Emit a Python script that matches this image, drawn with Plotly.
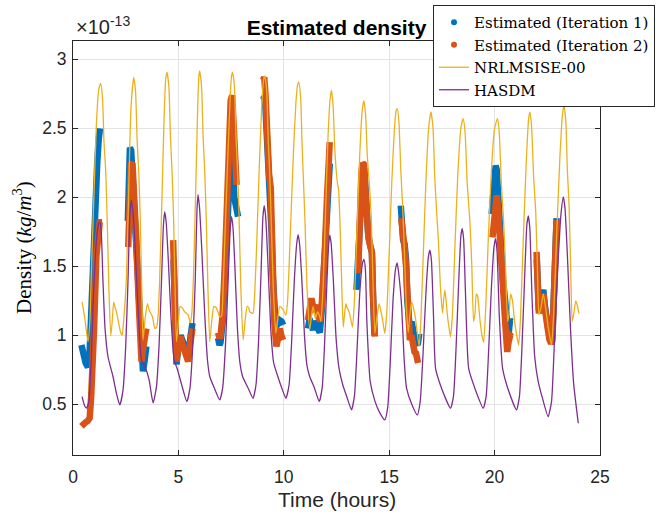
import plotly.graph_objects as go

# Values in units of 1e-13 kg/m^3, time in hours
HASDM = [(0.43,0.556),(0.55,0.49),(0.64,0.472),(0.75,0.52),(0.87,0.85),(0.95,1.21),(1.11,1.69),(1.20,1.80),(1.27,1.822),
 (1.34,1.75),(1.42,1.40),(1.52,1.05),(1.66,0.845),(1.90,0.70),(2.06,0.58),(2.22,0.496),(2.37,0.60),(2.50,0.92),(2.61,1.40),(2.70,1.88),(2.77,1.98),
 (2.84,1.90),(2.93,1.69),(3.08,1.21),(3.25,0.82),(3.40,0.78),(3.61,0.677),(3.80,0.51),(3.96,0.628),(4.08,0.92),(4.20,1.40),(4.29,1.80),(4.35,1.894),
 (4.42,1.82),(4.52,1.55),(4.66,1.10),(4.80,0.82),(4.94,0.76),(5.14,0.65),(5.40,0.52),(5.55,0.62),(5.68,0.92),(5.80,1.40),(5.88,1.90),(5.93,2.02),
 (6.00,1.93),(6.10,1.65),(6.25,1.15),(6.38,0.82),(6.49,0.70),(6.70,0.62),(6.96,0.532),(7.10,0.62),(7.23,0.92),(7.36,1.40),(7.46,1.78),(7.52,1.86),
 (7.59,1.78),(7.68,1.50),(7.80,1.05),(7.92,0.80),(8.05,0.70),(8.30,0.62),(8.54,0.544),(8.68,0.64),(8.80,0.95),(8.92,1.45),(9.01,1.86),(9.07,1.94),
 (9.14,1.86),(9.24,1.55),(9.38,1.05),(9.52,0.80),(9.72,0.70),(9.90,0.62),(10.10,0.544),(10.25,0.64),(10.37,0.95),(10.50,1.40),(10.61,1.66),(10.68,1.73),
 (10.75,1.66),(10.85,1.42),(10.98,1.00),(11.10,0.78),(11.23,0.70),(11.45,0.62),(11.68,0.52),(11.82,0.62),(11.93,0.92),(12.05,1.40),(12.13,1.66),(12.18,1.726),
 (12.25,1.66),(12.35,1.40),(12.48,0.98),(12.62,0.76),(12.80,0.64),(13.00,0.55),(13.21,0.46),(13.35,0.56),(13.47,0.88),(13.60,1.30),(13.73,1.52),(13.80,1.55),
 (13.87,1.48),(13.94,1.10),(14.10,0.664),(14.33,0.52),(14.55,0.44),(14.79,0.387),(14.93,0.48),(15.05,0.80),(15.18,1.25),(15.30,1.48),(15.38,1.525),
 (15.45,1.45),(15.59,1.21),(15.70,0.85),(15.82,0.62),(16.07,0.50),(16.33,0.423),(16.47,0.52),(16.60,0.85),(16.74,1.30),(16.86,1.57),(16.93,1.617),
 (17.00,1.55),(17.10,1.15),(17.20,0.76),(17.50,0.61),(17.91,0.472),(18.05,0.56),(18.17,0.90),(18.30,1.40),(18.40,1.72),(18.46,1.774),
 (18.53,1.70),(18.62,1.30),(18.77,0.76),(19.08,0.61),(19.46,0.472),(19.60,0.56),(19.72,0.90),(19.85,1.35),(19.97,1.64),(20.05,1.70),
 (20.12,1.60),(20.22,1.15),(20.38,0.76),(20.66,0.60),(21.04,0.46),(21.18,0.56),(21.30,0.92),(21.42,1.40),(21.53,1.80),(21.60,1.865),
 (21.67,1.78),(21.77,1.30),(21.90,0.85),(22.05,0.68),(22.26,0.55),(22.54,0.41),(22.70,0.52),(22.85,1.00),(23.00,1.50),(23.15,1.88),(23.26,2.003),
 (23.34,1.92),(23.45,1.59),(23.60,1.05),(23.75,0.65),(23.97,0.363)]

NRLMSISE = [(0.43,1.243),(0.55,1.135),(0.71,0.954),(0.80,1.10),(0.87,1.45),(1.00,2.05),(1.11,2.53),(1.22,2.78),(1.31,2.826),(1.40,2.72),(1.47,2.40),(1.55,2.20),(1.62,1.85),(1.70,1.35),(1.79,0.995),(1.86,1.10),(1.93,1.243),(2.00,1.20),(2.06,1.17),(2.14,1.11),(2.25,1.026),(2.33,1.0),(2.40,1.10),(2.53,1.40),(2.65,2.10),(2.75,2.65),(2.88,2.869),
 (2.97,2.76),(3.04,2.42),(3.12,2.18),(3.19,1.85),(3.26,1.35),(3.32,0.966),(3.42,1.12),(3.53,1.23),(3.62,1.18),(3.77,1.135),(3.88,1.05),(3.97,1.06),(4.04,1.15),(4.11,1.40),(4.22,2.00),(4.33,2.62),(4.40,2.86),(4.46,2.907),
 (4.55,2.80),(4.62,2.45),(4.70,2.18),(4.77,1.85),(4.84,1.35),(4.91,0.954),(5.00,1.10),(5.08,1.21),(5.18,1.20),(5.30,1.17),(5.46,1.15),(5.56,1.09),(5.63,1.15),(5.72,1.45),(5.82,2.05),(5.91,2.62),(5.97,2.88),(6.01,2.915),
 (6.10,2.80),(6.17,2.45),(6.25,2.18),(6.32,1.85),(6.40,1.35),(6.49,0.954),(6.58,1.10),(6.68,1.21),(6.80,1.20),(6.96,1.135),(7.05,1.14),(7.12,1.35),(7.20,1.69),(7.32,2.20),(7.45,2.70),(7.52,2.88),(7.57,2.907),
 (7.66,2.80),(7.73,2.45),(7.81,2.18),(7.88,1.85),(7.96,1.35),(8.07,0.966),(8.16,1.10),(8.26,1.21),(8.33,1.20),(8.39,1.17),(8.54,1.16),(8.60,1.25),(8.70,1.60),(8.82,2.15),(8.95,2.65),(9.04,2.85),(9.10,2.88),
 (9.19,2.77),(9.26,2.42),(9.33,2.18),(9.40,1.85),(9.50,1.35),(9.62,1.014),(9.70,1.10),(9.81,1.21),(9.95,1.19),(10.10,1.147),(10.18,1.25),(10.30,1.70),(10.45,2.30),(10.58,2.70),(10.66,2.82),(10.71,2.835),
 (10.80,2.72),(10.86,2.42),(10.92,2.17),(11.00,1.85),(11.10,1.35),(11.23,1.04),(11.32,1.15),(11.39,1.21),(11.50,1.12),(11.60,1.17),(11.68,1.15),(11.76,1.10),(11.87,1.376),(11.98,1.90),(12.10,2.45),(12.20,2.72),(12.26,2.775),
 (12.34,2.66),(12.42,2.35),(12.53,2.12),(12.60,2.05),(12.68,1.75),(12.76,1.30),(12.82,1.06),(12.88,1.15),(12.94,1.23),(13.00,1.20),(13.10,1.17),(13.26,1.06),(13.35,1.25),(13.47,1.75),(13.60,2.30),(13.72,2.63),(13.80,2.70),
 (13.88,2.60),(13.96,2.30),(14.08,2.05),(14.15,1.85),(14.22,1.45),(14.32,1.014),(14.42,1.13),(14.52,1.23),(14.60,1.18),(14.70,1.10),(14.79,1.014),(14.88,1.15),(15.00,1.60),(15.12,2.10),(15.25,2.50),(15.33,2.63),(15.38,2.643),
 (15.46,2.55),(15.55,2.20),(15.63,1.955),(15.70,1.70),(15.80,1.25),(15.90,1.02),(15.98,1.15),(16.06,1.243),(16.15,1.20),(16.25,1.12),(16.42,0.918),(16.50,1.10),(16.62,1.60),(16.75,2.15),(16.87,2.50),(16.98,2.62),
 (17.08,2.50),(17.16,2.15),(17.25,1.894),(17.33,1.70),(17.43,1.35),(17.53,1.16),(17.58,1.25),(17.64,1.33),(17.70,1.25),(17.78,1.12),(17.91,0.99),(18.00,1.15),(18.12,1.65),(18.25,2.15),(18.40,2.50),(18.51,2.57),
 (18.60,2.47),(18.70,2.10),(18.83,1.82),(18.92,1.50),(19.00,1.10),(19.07,1.16),(19.13,1.30),(19.20,1.28),(19.30,1.12),(19.40,1.00),(19.48,0.95),(19.58,1.20),(19.70,1.70),(19.85,2.20),(20.00,2.50),(20.14,2.57),
 (20.22,2.47),(20.32,2.10),(20.42,1.85),(20.52,1.50),(20.62,1.10),(20.68,1.15),(20.76,1.30),(20.85,1.25),(20.95,1.10),(21.14,0.93),(21.22,1.10),(21.35,1.65),(21.50,2.25),(21.62,2.58),(21.68,2.618),
 (21.76,2.50),(21.85,2.15),(21.95,1.90),(22.03,1.50),(22.10,1.15),(22.20,1.20),(22.31,1.30),(22.42,1.20),(22.55,1.05),(22.70,0.93),(22.80,1.15),(22.95,1.75),(23.10,2.30),(23.22,2.60),(23.29,2.666),
 (23.38,2.55),(23.45,2.20),(23.53,1.95),(23.60,1.55),(23.68,1.10),(23.75,1.15),(23.85,1.25),(23.92,1.22),(24.00,1.16)]

ITER1_SEGMENTS = [
 [(0.40,0.93),(0.50,0.86),(0.60,0.80),(0.71,0.77),(0.78,0.85),(0.85,1.10),(0.95,1.58),(1.05,1.95),(1.15,2.25),(1.22,2.42),(1.28,2.50)],
 [(2.60,1.83),(2.65,2.20),(2.70,2.36),(2.76,2.34),(2.85,2.10),(2.95,1.75),(3.05,1.40),(3.15,1.10),(3.25,0.88),(3.32,0.74),(3.40,0.82),(3.48,0.92)],
 [(4.77,1.55),(4.82,1.20),(4.87,0.90),(4.91,0.79),(5.00,0.92),(5.10,1.00),(5.20,0.96),(5.30,0.92),(5.40,0.87),(5.48,0.85),(5.58,1.00),(5.67,1.09)],
 [(6.88,0.98),(6.95,0.93),(7.00,0.95),(7.10,1.10),(7.20,1.40),(7.30,1.85),(7.40,2.20),(7.48,2.40),(7.52,2.43),(7.57,2.30),(7.65,2.00),(7.83,1.86)],
 [(9.02,2.71),(9.07,2.73),(9.13,2.65),(9.20,2.41),(9.30,2.17),(9.38,2.05),(9.42,1.75),(9.47,1.45),(9.55,1.15),(9.62,1.06),(9.70,1.08),(9.81,1.11),(9.90,1.10),(9.97,1.075)],
 [(11.15,1.05),(11.22,1.12),(11.30,1.08),(11.39,1.04),(11.48,1.10),(11.58,1.08),(11.65,1.04),(11.71,1.02),(11.80,1.18),(11.87,1.40),(11.95,1.62),(12.05,1.95),(12.12,2.15),(12.18,2.245)],
 [(13.45,1.33),(13.52,1.55),(13.58,1.80),(13.64,2.05),(13.70,2.20),(13.76,2.24),(13.82,2.20),(13.90,1.95),(14.00,1.74),(14.10,1.65),(14.18,1.60),(14.24,1.25),(14.30,1.00)],
 [(15.55,1.94),(15.60,1.80),(15.66,1.69),(15.73,1.66),(15.80,1.55),(15.86,1.25),(15.90,1.11),(15.98,1.05),(16.06,1.10),(16.15,1.02),(16.25,0.95),(16.35,0.93),(16.42,1.00),(16.46,0.99)],
 [(19.86,1.88),(19.92,2.05),(19.98,2.18),(20.05,2.23),(20.10,2.20),(20.16,2.00),(20.22,1.75),(20.30,1.55),(20.40,1.40),(20.50,1.25),(20.60,1.05),(20.66,1.00),(20.73,1.11),(20.80,1.10)],
 [(22.00,1.55),(22.05,1.30),(22.10,1.18),(22.18,1.25),(22.25,1.30),(22.31,1.33),(22.38,1.22),(22.45,1.17),(22.52,1.07),(22.60,1.00),(22.68,0.96),(22.74,0.98),(22.80,1.28),(22.87,1.58),(22.94,1.85)],
]

ITER2_SEGMENTS = [
 [(0.40,0.34),(0.50,0.36),(0.60,0.37),(0.70,0.38),(0.79,0.40),(0.86,0.55),(0.92,0.72),(1.00,1.05),(1.11,1.58),(1.20,1.76),(1.27,1.82),(1.38,1.82)],
 [(2.62,1.64),(2.68,2.05),(2.75,2.24),(2.82,2.25),(2.90,2.05),(3.00,1.70),(3.10,1.30),(3.20,0.95),(3.25,0.81),(3.32,0.90),(3.40,1.02),(3.48,1.05)],
 [(4.75,1.69),(4.80,1.35),(4.86,0.95),(4.91,0.81),(5.00,0.92),(5.10,0.99),(5.20,0.93),(5.30,0.88),(5.40,0.83),(5.46,0.81),(5.55,0.93),(5.67,1.05)],
 [(6.88,1.02),(6.95,0.98),(7.00,1.00),(7.10,1.15),(7.20,1.50),(7.30,2.00),(7.40,2.45),(7.48,2.70),(7.55,2.74),(7.62,2.55),(7.70,2.25),(7.76,2.09)],
 [(9.02,2.85),(9.07,2.87),(9.13,2.75),(9.20,2.45),(9.30,2.17),(9.38,2.07),(9.42,1.75),(9.47,1.45),(9.55,1.10),(9.60,1.00),(9.65,0.92),(9.73,0.98),(9.81,1.05),(9.88,1.00),(9.97,0.966)],
 [(11.15,1.11),(11.22,1.20),(11.31,1.268),(11.39,1.21),(11.47,1.17),(11.53,1.20),(11.58,1.22),(11.65,1.15),(11.71,1.10),(11.80,1.22),(11.87,1.376),(11.95,1.62),(12.05,2.00),(12.12,2.28),(12.18,2.40)],
 [(13.53,1.45),(13.58,1.75),(13.62,2.00),(13.68,2.18),(13.74,2.25),(13.80,2.24),(13.87,2.05),(13.95,1.80),(14.02,1.70),(14.10,1.65),(14.18,1.60),(14.23,1.30),(14.28,1.05),(14.32,0.99)],
 [(15.57,1.85),(15.62,1.72),(15.66,1.66),(15.73,1.63),(15.80,1.50),(15.86,1.20),(15.90,1.05),(15.98,0.966),(16.06,1.00),(16.13,0.93),(16.20,0.88),(16.27,0.87),(16.32,0.82),(16.37,0.80)],
 [(19.90,1.71),(19.96,1.85),(20.03,1.97),(20.10,2.015),(20.16,1.92),(20.24,1.65),(20.33,1.45),(20.42,1.30),(20.50,1.10),(20.55,0.95),(20.60,0.88),(20.66,0.95),(20.74,1.00),(20.82,0.99)],
 [(21.99,1.605),(22.04,1.35),(22.10,1.16),(22.18,1.22),(22.25,1.27),(22.31,1.30),(22.38,1.20),(22.45,1.15),(22.52,1.05),(22.60,0.97),(22.68,0.94),(22.74,0.96),(22.80,1.25),(22.87,1.55),(22.94,1.834)],
]

X_TICKS = [0, 5, 10, 15, 20, 25]
Y_TICKS = [0.5, 1, 1.5, 2, 2.5, 3]
Y_TICK_TEXT = ["0.5", "1", "1.5", "2", "2.5", "3"]

C_BLUE = "#0072BD"
C_ORANGE = "#D95319"
C_YELLOW = "#EDB120"
C_PURPLE = "#7E2F8E"
AX = "#262626"


def unzip(pairs):
    return [p[0] for p in pairs], [p[1] for p in pairs]


def flatten(segments):
    xs, ys = [], []
    for seg in segments:
        sx, sy = unzip(seg)
        xs += sx + [None]
        ys += sy + [None]
    return xs, ys


fig = go.Figure()

LEG_FONT = dict(family="DejaVu Serif", size=15, color="black")

# legend-only markers
fig.add_trace(go.Scatter(x=[None], y=[None], mode="markers", name="Estimated (Iteration 1)",
                         marker=dict(color=C_BLUE, size=6)))
fig.add_trace(go.Scatter(x=[None], y=[None], mode="markers", name="Estimated (Iteration 2)",
                         marker=dict(color=C_ORANGE, size=6)))

x1, y1 = flatten(ITER1_SEGMENTS)
fig.add_trace(go.Scatter(x=x1, y=y1, mode="lines", showlegend=False,
                         line=dict(color=C_BLUE, width=6.5), connectgaps=False))
x2, y2 = flatten(ITER2_SEGMENTS)
fig.add_trace(go.Scatter(x=x2, y=y2, mode="lines", showlegend=False,
                         line=dict(color=C_ORANGE, width=6.5), connectgaps=False))

xn, yn = unzip(NRLMSISE)
fig.add_trace(go.Scatter(x=xn, y=yn, mode="lines", name="NRLMSISE-00",
                         line=dict(color=C_YELLOW, width=1.3, shape="spline", smoothing=0.5)))
xh, yh = unzip(HASDM)
fig.add_trace(go.Scatter(x=xh, y=yh, mode="lines", name="HASDM",
                         line=dict(color=C_PURPLE, width=1.3, shape="spline", smoothing=0.5)))

axis_common = dict(
    showline=True, linecolor=AX, linewidth=1, mirror="ticks",
    ticks="inside", ticklen=5, tickcolor=AX, tickwidth=1,
    showgrid=True, gridcolor="#E3E3E3", gridwidth=1, zeroline=False,
    tickfont=dict(family="Liberation Sans", size=17.5, color=AX),
)

fig.update_layout(
    width=664, height=515,
    margin=dict(l=73, r=64, t=41, b=60, autoexpand=False),
    paper_bgcolor="white", plot_bgcolor="white",
    xaxis=dict(range=[0, 25], tickvals=X_TICKS, ticklabelstandoff=6, automargin=False, **axis_common),
    yaxis=dict(range=[0.133, 3.133], tickvals=Y_TICKS, ticktext=Y_TICK_TEXT, ticklabelstandoff=2,
               automargin=False, **axis_common),
    title=dict(text="<b>Estimated density</b>", x=0.5, xref="paper", xanchor="center",
               y=1 - 28 / 515, yref="container", yanchor="middle",
               font=dict(family="Liberation Sans", size=21, color="black")),
    legend=dict(x=(433 - 73) / 527, y=1 + (41 - 5) / 414, xanchor="left", yanchor="top",
                bgcolor="white", bordercolor=AX, borderwidth=1, font=LEG_FONT,
                tracegroupgap=0, itemwidth=30),
    showlegend=True,
    annotations=[
        dict(text="×10<sup>-13</sup>", xref="paper", yref="paper", x=0, y=1,
             xanchor="left", yanchor="bottom", showarrow=False, xshift=1, yshift=1,
             font=dict(family="Liberation Sans", size=20, color=AX)),
        dict(text="Density (<i>kg</i>/<i>m</i><sup>3</sup>)", xref="paper", yref="paper",
             x=(22 - 73) / 527, y=0.5, textangle=-90, xanchor="center", yanchor="middle",
             showarrow=False, font=dict(family="Liberation Serif", size=21, color="black")),
        dict(text="Time (hours)", xref="paper", yref="paper", x=0.5, y=(455 - 499) / 414,
             xanchor="center", yanchor="middle", showarrow=False,
             font=dict(family="Liberation Sans", size=21, color=AX)),
    ],
)

fig.write_html("out.html")
